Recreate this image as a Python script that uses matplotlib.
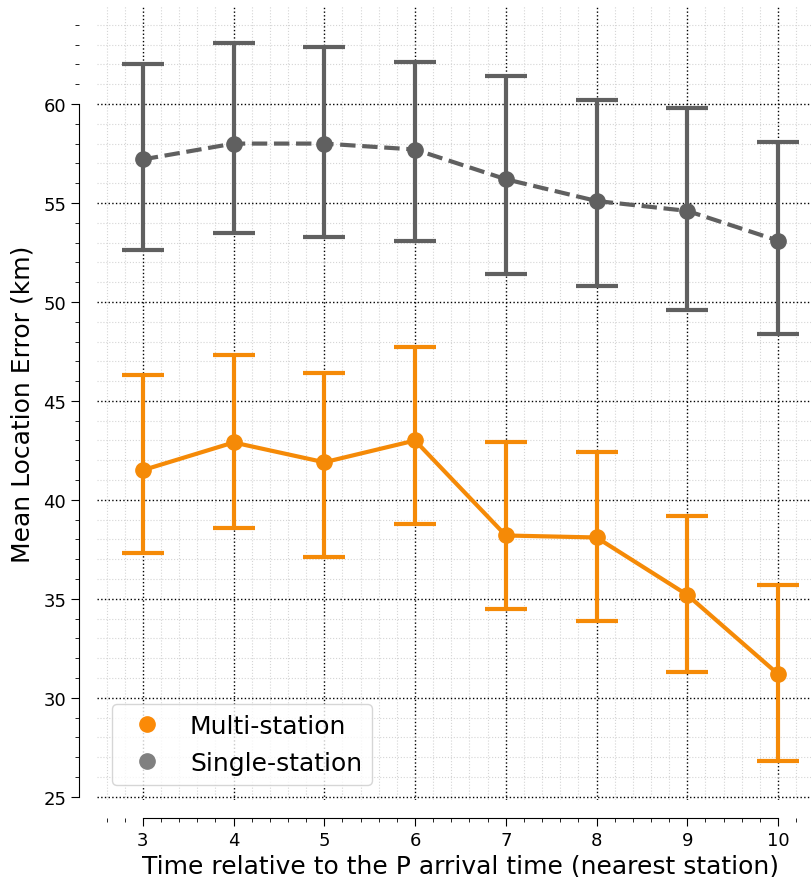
import matplotlib.pyplot as plt
from matplotlib.ticker import MultipleLocator

times = [3, 4, 5, 6, 7, 8, 9, 10]

multi_mean = [41.5, 42.9, 41.9, 43.0, 38.2, 38.1, 35.2, 31.2]
multi_low = [37.3, 38.6, 37.1, 38.8, 34.5, 33.9, 31.3, 26.8]
multi_high = [46.3, 47.3, 46.4, 47.7, 42.9, 42.4, 39.2, 35.7]

single_mean = [57.2, 58.0, 58.0, 57.7, 56.2, 55.1, 54.6, 53.1]
single_low = [52.6, 53.5, 53.3, 53.1, 51.4, 50.8, 49.6, 48.4]
single_high = [62.0, 63.1, 62.9, 62.1, 61.4, 60.2, 59.8, 58.1]

fig = plt.figure(figsize=(8.12, 8.78), dpi=100)
ax = fig.add_axes([0.12, 0.088, 0.894, 0.904])

def draw(mean, low, high, color, legend_color, ls, label):
    err = [[m - l for m, l in zip(mean, low)], [h - m for m, h in zip(mean, high)]]
    ax.errorbar(times, mean, yerr=err, color=color, ls=ls, lw=3, marker='o',
                markersize=11, elinewidth=3, capsize=15, capthick=3, zorder=3)
    ax.plot([], [], 'o', color=legend_color, markersize=11, label=label)

draw(multi_mean, multi_low, multi_high, '#f58a07', '#fb8a07', '-', 'Multi-station')
draw(single_mean, single_low, single_high, '#606060', '#808080', '--', 'Single-station')

ax.set_xlim(2.5, 10.5)
ax.set_ylim(24.85, 64.95)
ax.yaxis.set_major_locator(MultipleLocator(5))
ax.yaxis.set_minor_locator(MultipleLocator(1))
ax.xaxis.set_major_locator(MultipleLocator(1))
ax.xaxis.set_minor_locator(MultipleLocator(0.2))

ax.grid(which='major', color='black', ls=':', lw=1)
ax.grid(which='minor', color='#d5d5d5', ls=':', lw=0.8)
ax.set_axisbelow(True)

for s in ['top', 'right']:
    ax.spines[s].set_visible(False)
ax.spines['left'].set_position(('outward', 13))
ax.spines['bottom'].set_position(('outward', 13))
ax.spines['left'].set_bounds(25, 60)
ax.spines['bottom'].set_bounds(3, 10)
ax.tick_params(labelsize=13, length=6)
ax.tick_params(which='minor', length=3)

ax.set_xlabel('Time relative to the P arrival time (nearest station)', fontsize=18, labelpad=3)
ax.set_ylabel('Mean Location Error (km)', fontsize=18, labelpad=6)
ax.legend(loc='lower left', fontsize=18, framealpha=0.8, handletextpad=0.7,
          borderaxespad=0.6)

fig.savefig('out.png')
